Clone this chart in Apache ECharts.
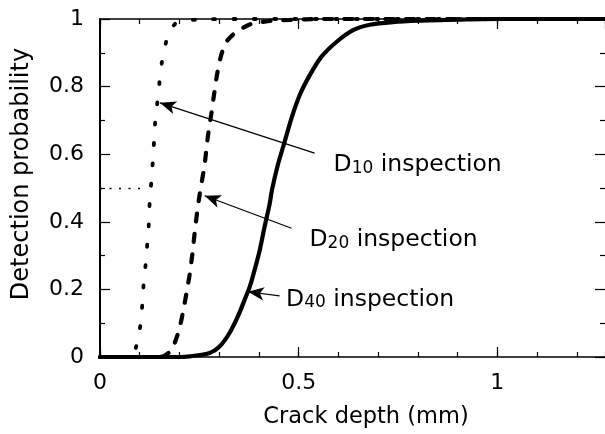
<!DOCTYPE html>
<html>
<head>
<meta charset="utf-8">
<script src="https://cdn.jsdelivr.net/npm/echarts@6/dist/echarts.min.js"></script>
<style>
  html, body { margin: 0; padding: 0; background: #fff; }
  #chart { width: 605px; height: 434px; }
</style>
</head>
<body>
<div id="chart"></div>
<script>
// Probability of detection versus crack depth for three inspection classes.
const X_MAX = 1.271;

// [crack depth (mm), detection probability]
const d10Points = [
  [0, 0], [0.07, 0], [0.082, 0.005], [0.0916, 0.033], [0.1017, 0.095], [0.1067, 0.159],
  [0.110, 0.218], [0.115, 0.276], [0.119, 0.335], [0.123, 0.396], [0.125, 0.458],
  [0.129, 0.517], [0.133, 0.580], [0.136, 0.639], [0.139, 0.696], [0.1445, 0.755],
  [0.150, 0.816], [0.156, 0.874], [0.167, 0.935], [0.178, 0.968], [0.194, 0.990],
  [0.243, 0.998], [0.35, 1], [1.271, 1]
];
const d20Points = [
  [0, 0], [0.14, 0], [0.159, 0.002], [0.180, 0.021], [0.199, 0.080], [0.209, 0.134],
  [0.2175, 0.188], [0.226, 0.247], [0.2326, 0.306], [0.238, 0.365], [0.244, 0.424],
  [0.251, 0.482], [0.2635, 0.571], [0.269, 0.629], [0.274, 0.674], [0.280, 0.718],
  [0.287, 0.776], [0.2945, 0.835], [0.303, 0.884], [0.316, 0.929], [0.339, 0.958],
  [0.377, 0.984], [0.427, 0.994], [0.477, 0.997], [0.56, 1], [1.271, 1]
];
const d40Points = [
  [0, 0], [0.2, 0], [0.226, 0.002], [0.276, 0.012], [0.301, 0.031], [0.326, 0.071],
  [0.347, 0.120], [0.364, 0.169], [0.377, 0.208], [0.389, 0.257], [0.402, 0.316],
  [0.414, 0.384], [0.427, 0.453], [0.433, 0.495], [0.448, 0.570], [0.465, 0.638],
  [0.482, 0.707], [0.503, 0.776], [0.528, 0.834], [0.557, 0.888], [0.595, 0.932],
  [0.637, 0.967], [0.679, 0.983], [0.737, 0.991], [0.805, 0.995], [0.9, 0.998],
  [1.0, 1], [1.271, 1]
];

// Inspection labels: subscript, text anchor, arrow tail, arrow head (data units)
const noteSubs = ['10', '20', '40'];
const noteAnchors = [[0.5865, 0.5735], [0.526, 0.353], [0.467, 0.176]];
const arrowTails = [[0.540, 0.603], [0.482, 0.381], [0.452, 0.181]];
const arrowHeads = [[0.151, 0.752], [0.2635, 0.477], [0.3725, 0.193]];

// Median reference for the D10 curve
const medianLine = [[0, 0.5], [0.118, 0.5]];

const FONT = 'DejaVu Sans';
const INK = '#000';

const chart = echarts.init(document.getElementById('chart'), null, { renderer: 'canvas' });

function xAxisDef(position, interval, tickLen, extra) {
  return Object.assign({
    type: 'value', position: position, min: 0, max: X_MAX, interval: interval,
    axisLine: { show: false, onZero: false },
    axisTick: { show: true, inside: true, length: tickLen, lineStyle: { color: INK, width: 1.2 } },
    axisLabel: { show: false },
    splitLine: { show: false }
  }, extra || {});
}

function yAxisDef(position, extra) {
  return Object.assign({
    type: 'value', position: position, min: 0, max: 1, interval: 0.2,
    axisLine: { show: false, onZero: false },
    axisTick: { show: true, inside: true, length: 10, lineStyle: { color: INK, width: 1.2 } },
    minorTick: { show: true, splitNumber: 2, length: 5, lineStyle: { color: INK, width: 1.2 } },
    axisLabel: { show: false },
    splitLine: { show: false }
  }, extra || {});
}

const noteRich = {
  m: { fontFamily: FONT, fontSize: 23.5, color: INK, lineHeight: 28, verticalAlign: 'bottom' },
  s: { fontFamily: FONT, fontSize: 17, color: INK, lineHeight: 2, verticalAlign: 'bottom' }
};

const curveBase = { type: 'line', symbol: 'none', smooth: 0.25 };

const option = {
  animation: false,
  backgroundColor: '#fff',
  grid: { left: 100, top: 19, right: 0, bottom: 75, containLabel: false },
  xAxis: [
    xAxisDef('bottom', 0.5, 10, {
      axisLine: { show: true, onZero: false, lineStyle: { color: INK, width: 1.5 } },
      axisLabel: { show: true, margin: 15, fontFamily: FONT, fontSize: 22, color: INK, showMaxLabel: false },
      name: 'Crack depth (mm)', nameLocation: 'middle', nameGap: 49,
      nameTextStyle: { fontFamily: FONT, fontSize: 22.5, color: INK, padding: [0, 0, 0, 27] }
    }),
    xAxisDef('bottom', 0.1, 5),
    xAxisDef('top', 0.5, 10, {
      axisLine: { show: true, onZero: false, lineStyle: { color: INK, width: 1.5 } }
    }),
    xAxisDef('top', 0.1, 5)
  ],
  yAxis: [
    yAxisDef('left', {
      axisLine: { show: true, onZero: false, lineStyle: { color: INK, width: 2 } },
      axisLabel: { show: true, margin: 16, fontFamily: FONT, fontSize: 22, color: INK },
      name: 'Detection probability', nameLocation: 'middle', nameGap: 66,
      nameTextStyle: { fontFamily: FONT, fontSize: 24, color: INK, padding: [0, 0, 0, 28] }
    }),
    yAxisDef('right')
  ],
  series: [
    Object.assign({}, curveBase, {
      name: 'D10', data: d10Points,
      lineStyle: { color: INK, width: 3.8, type: [2, 18.4], cap: 'round' },
      markLine: {
        silent: true, symbol: ['none', 'none'], label: { show: false },
        lineStyle: { color: INK, width: 1.4, type: [2, 7.5] },
        data: [[{ coord: medianLine[0] }, { coord: medianLine[1] }]]
      }
    }),
    Object.assign({}, curveBase, {
      name: 'D20', data: d20Points,
      lineStyle: { color: INK, width: 4.2, type: [8, 12.5], cap: 'round' }
    }),
    Object.assign({}, curveBase, {
      name: 'D40', data: d40Points,
      lineStyle: { color: INK, width: 4.2, type: 'solid', cap: 'round' }
    }),
    {
      name: 'notes', type: 'line', data: [], symbol: 'none',
      markLine: {
        silent: true, symbol: ['none', 'arrow'], symbolSize: [10, 16], label: { show: false },
        lineStyle: { color: INK, width: 1.2, type: 'solid' },
        data: arrowTails.map((t, i) => [{ coord: t }, { coord: arrowHeads[i] }])
      },
      markPoint: {
        silent: true, symbol: 'circle', symbolSize: 1,
        itemStyle: { color: 'rgba(0,0,0,0)' },
        label: {
          show: true, position: 'right', distance: 0,
          formatter: p => '{m|D}{s|' + p.name + '}{m| inspection}',
          rich: noteRich
        },
        data: noteAnchors.map((c, i) => ({ name: noteSubs[i], coord: c }))
      }
    }
  ]
};

chart.setOption(option);
</script>
</body>
</html>
